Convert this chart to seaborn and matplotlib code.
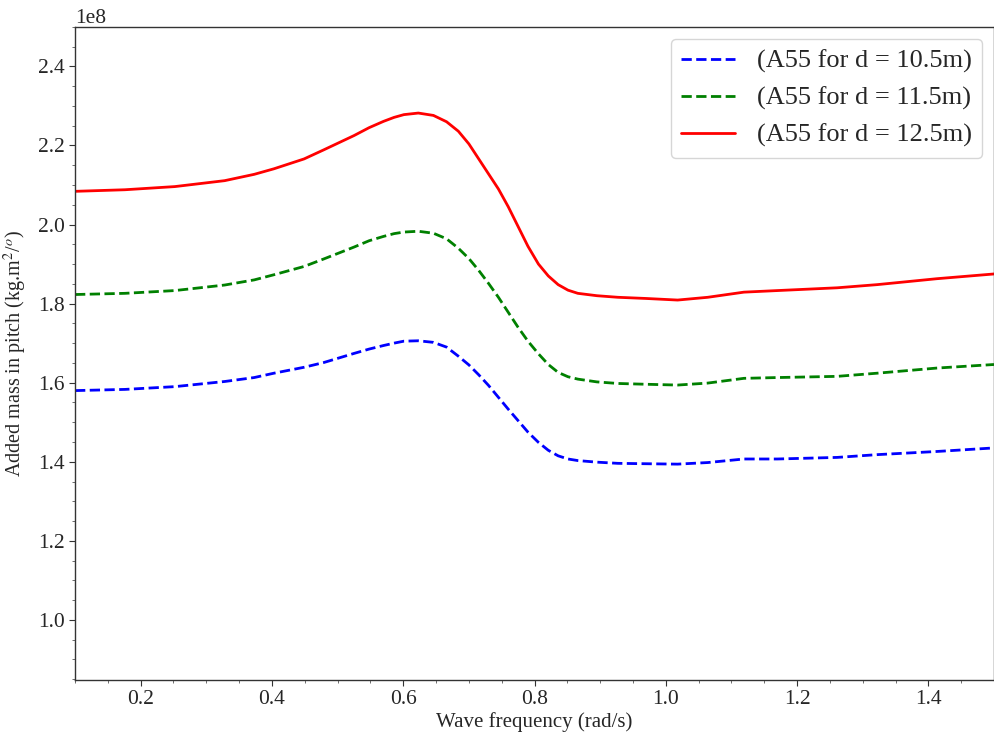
import matplotlib
matplotlib.use("Agg")
import matplotlib.pyplot as plt
from matplotlib.ticker import AutoMinorLocator
import seaborn as sns
import pandas as pd

# Wave frequency samples (rad/s)
freq = [0.100, 0.176, 0.252, 0.328, 0.373, 0.403, 0.449, 0.479, 0.525, 0.548,
        0.570, 0.586, 0.601, 0.623, 0.646, 0.666, 0.684, 0.700, 0.715, 0.730,
        0.745, 0.760, 0.775, 0.790, 0.806, 0.821, 0.836, 0.851, 0.866, 0.895,
        0.927, 0.970, 1.018, 1.064, 1.119, 1.170, 1.261, 1.322, 1.413, 1.500]

# Added mass in pitch, units of 1e8
a55_d105 = [1.580, 1.583, 1.590, 1.603, 1.613, 1.624, 1.639, 1.651, 1.674, 1.685,
            1.694, 1.700, 1.705, 1.706, 1.702, 1.690, 1.667, 1.645, 1.620, 1.593,
            1.563, 1.533, 1.504, 1.475, 1.449, 1.429, 1.415, 1.407, 1.403, 1.399,
            1.396, 1.395, 1.394, 1.398, 1.407, 1.407, 1.411, 1.418, 1.426, 1.435]
a55_d115 = [1.823, 1.826, 1.833, 1.847, 1.860, 1.873, 1.894, 1.913, 1.943, 1.959,
            1.970, 1.977, 1.981, 1.983, 1.978, 1.964, 1.940, 1.914, 1.884, 1.851,
            1.816, 1.778, 1.740, 1.705, 1.673, 1.646, 1.626, 1.615, 1.609, 1.602,
            1.598, 1.596, 1.594, 1.599, 1.611, 1.613, 1.616, 1.624, 1.637, 1.646]
a55_d125 = [2.084, 2.088, 2.096, 2.111, 2.127, 2.141, 2.166, 2.189, 2.225, 2.245,
            2.261, 2.271, 2.278, 2.282, 2.276, 2.260, 2.236, 2.204, 2.166, 2.128,
            2.090, 2.045, 1.995, 1.945, 1.900, 1.870, 1.848, 1.834, 1.826, 1.820,
            1.816, 1.813, 1.809, 1.816, 1.829, 1.833, 1.840, 1.848, 1.863, 1.875]

labels = ["(A55 for d = 10.5m)", "(A55 for d = 11.5m)", "(A55 for d = 12.5m)"]
colors = ["blue", "green", "red"]
styles = ["--", "--", "-"]

sns.set_style("ticks")
plt.rcParams["font.family"] = ["Liberation Serif", "DejaVu Serif"]
plt.rcParams["mathtext.fontset"] = "stix"

fig = plt.figure(figsize=(9.95, 7.38), dpi=100)
ax = fig.add_axes([0.0754, 0.0786, 0.9236, 0.885])

for vals, lab, col, ls in zip([a55_d105, a55_d115, a55_d125], labels, colors, styles):
    df = pd.DataFrame({"freq": freq, "a55": [v * 1e8 for v in vals]})
    sns.lineplot(data=df, x="freq", y="a55", ax=ax, color=col, linestyle=ls,
                 linewidth=2, label=lab)

ax.set_xlim(0.1, 1.5)
ax.set_ylim(0.848e8, 2.5e8)
ax.set_xticks([0.2, 0.4, 0.6, 0.8, 1.0, 1.2, 1.4])
ax.set_yticks([1.0e8, 1.2e8, 1.4e8, 1.6e8, 1.8e8, 2.0e8, 2.2e8, 2.4e8])
ax.xaxis.set_minor_locator(AutoMinorLocator(4))
ax.yaxis.set_minor_locator(AutoMinorLocator(4))
ax.tick_params(axis="both", which="major", labelsize=15.5, length=4, color="#333333")
ax.tick_params(axis="both", which="minor", length=2.5, color="#555555")
ax.yaxis.get_offset_text().set_fontsize(15.5)

ax.set_xlabel("Wave frequency (rad/s)", fontsize=15, labelpad=2)
ax.set_ylabel(r"Added mass in pitch (kg.m$^2$/$^o$)", fontsize=14.5, labelpad=6)

for sp in ax.spines.values():
    sp.set_color("#333333")
    sp.set_linewidth(1.0)

leg = ax.legend(loc="upper right", fontsize=19, frameon=True, handlelength=2.05,
                borderaxespad=0.45)
leg.get_frame().set_edgecolor("#cccccc")

fig.savefig("out.png", dpi=100)
